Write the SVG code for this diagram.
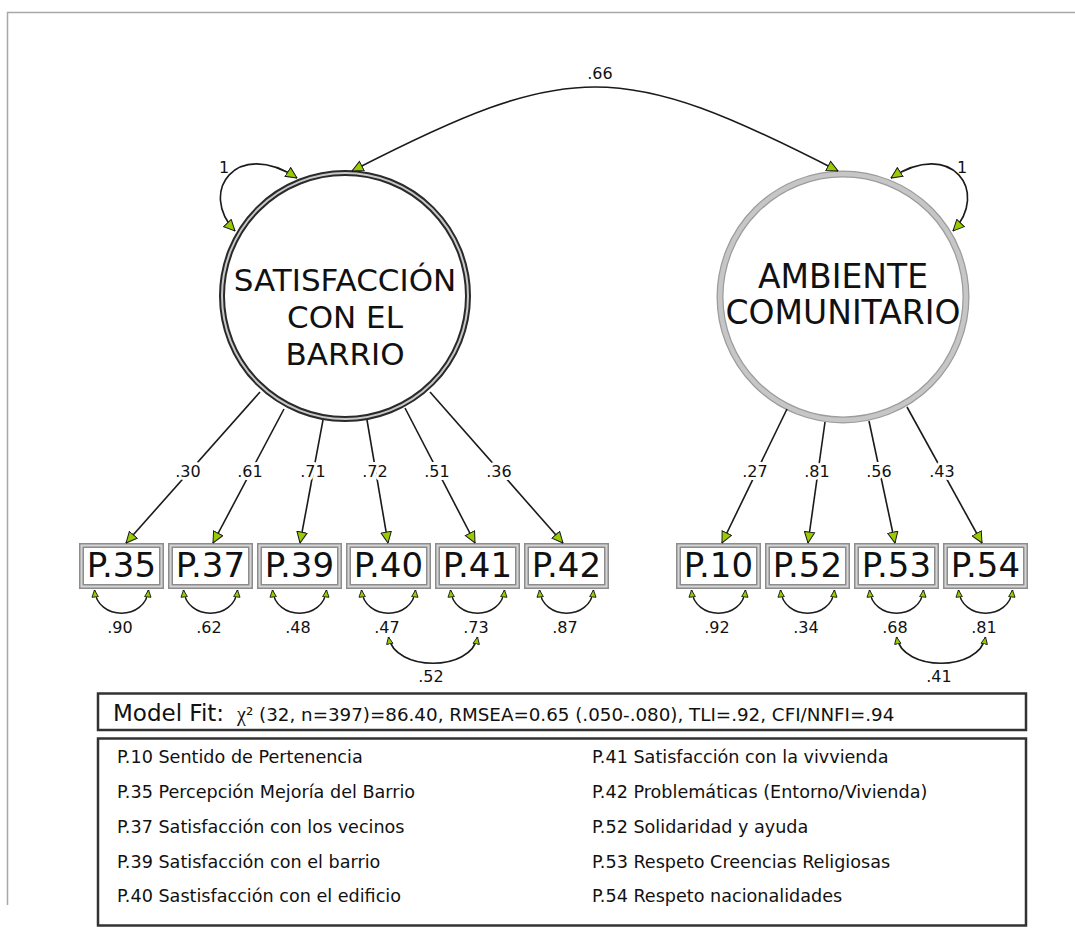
<svg xmlns="http://www.w3.org/2000/svg" width="1075" height="942" viewBox="0 0 1075 942">
<style>
text{font-family:"DejaVu Sans",Verdana,sans-serif;fill:#111}
.lbl{font-size:16px;text-anchor:middle;paint-order:stroke;stroke:#fff;stroke-width:6px;stroke-linejoin:round}
.elbl{font-size:16px;text-anchor:middle}
.c{fill:none;stroke:#1a1a1a;stroke-width:1.6}
.ld{marker-end:url(#ah)}
.lp{marker-start:url(#ah);marker-end:url(#ah)}
.er{marker-start:url(#as);marker-end:url(#as)}
.bo{fill:#fff;stroke:#8c8c8c;stroke-width:5}
.bi{fill:none;stroke:#d4d4d4;stroke-width:2}
.bt{font-size:34px;text-anchor:middle}
.lt{font-size:17.6px}
.ct{text-anchor:middle}
.frm{fill:#fff;stroke:#333;stroke-width:2.5}
</style>
<defs>
<marker id="ah" viewBox="0 0 12 12" refX="11.5" refY="6" markerWidth="12" markerHeight="12" markerUnits="userSpaceOnUse" orient="auto-start-reverse"><path d="M0.5,0.8 L11.5,6 L0.5,11.2 Z" fill="#99cc00" stroke="#1a1a1a" stroke-width="1"/></marker>
<marker id="as" viewBox="0 0 8 8" refX="7.5" refY="4" markerWidth="8" markerHeight="8" markerUnits="userSpaceOnUse" orient="auto-start-reverse"><path d="M0.5,0.8 L7.5,4 L0.5,7.2 Z" fill="#99cc00" stroke="#1a1a1a" stroke-width="0.9"/></marker>
</defs>
<rect width="1075" height="942" fill="#fff"/>
<path d="M7.5,905 V12.5 H1075" fill="none" stroke="#a8a8a8" stroke-width="1.5"/>

<g id="latent-satisfaccion">
<circle cx="345" cy="296" r="123" fill="#fff" stroke="#2a2a2a" stroke-width="6"/>
<circle cx="345" cy="296" r="123" fill="none" stroke="#c8c8c8" stroke-width="2"/>
<text class="ct" x="345" y="291" font-size="31">SATISFACCIÓN</text>
<text class="ct" x="345" y="328" font-size="31">CON EL</text>
<text class="ct" x="345" y="365" font-size="31">BARRIO</text>
</g>
<g id="latent-ambiente">
<circle cx="843" cy="297" r="123" fill="#fff" stroke="#9c9c9c" stroke-width="7"/>
<circle cx="843" cy="297" r="123" fill="none" stroke="#c6c6c6" stroke-width="4.5"/>
<text class="ct" x="843" y="288" font-size="33">AMBIENTE</text>
<text class="ct" x="843" y="324" font-size="33">COMUNITARIO</text>
</g>

<g id="P35"><rect class="bo" x="81.5" y="545.5" width="80" height="41"/><rect class="bi" x="81.5" y="545.5" width="80" height="41"/><text class="bt" x="121.5" y="577">P.35</text></g>
<g id="P37"><rect class="bo" x="170.5" y="545.5" width="80" height="41"/><rect class="bi" x="170.5" y="545.5" width="80" height="41"/><text class="bt" x="210.5" y="577">P.37</text></g>
<g id="P39"><rect class="bo" x="259.5" y="545.5" width="80" height="41"/><rect class="bi" x="259.5" y="545.5" width="80" height="41"/><text class="bt" x="299.5" y="577">P.39</text></g>
<g id="P40"><rect class="bo" x="348.5" y="545.5" width="80" height="41"/><rect class="bi" x="348.5" y="545.5" width="80" height="41"/><text class="bt" x="388.5" y="577">P.40</text></g>
<g id="P41"><rect class="bo" x="437.5" y="545.5" width="80" height="41"/><rect class="bi" x="437.5" y="545.5" width="80" height="41"/><text class="bt" x="477.5" y="577">P.41</text></g>
<g id="P42"><rect class="bo" x="526.5" y="545.5" width="80" height="41"/><rect class="bi" x="526.5" y="545.5" width="80" height="41"/><text class="bt" x="566.5" y="577">P.42</text></g>
<g id="P10"><rect class="bo" x="678.5" y="545.5" width="80" height="41"/><rect class="bi" x="678.5" y="545.5" width="80" height="41"/><text class="bt" x="718.5" y="577">P.10</text></g>
<g id="P52"><rect class="bo" x="767.5" y="545.5" width="80" height="41"/><rect class="bi" x="767.5" y="545.5" width="80" height="41"/><text class="bt" x="807.5" y="577">P.52</text></g>
<g id="P53"><rect class="bo" x="856.5" y="545.5" width="80" height="41"/><rect class="bi" x="856.5" y="545.5" width="80" height="41"/><text class="bt" x="896.5" y="577">P.53</text></g>
<g id="P54"><rect class="bo" x="945.5" y="545.5" width="80" height="41"/><rect class="bi" x="945.5" y="545.5" width="80" height="41"/><text class="bt" x="985.5" y="577">P.54</text></g>

<g id="connectors">
<path class="c lp" d="M352,171 C570,59 620,59 838,171"/>
<text class="elbl" x="600" y="79">.66</text>
<path class="c lp" d="M235,231 C198,192 236,138 297,178"/>
<text class="elbl" x="224" y="173">1</text>
<path class="c lp" d="M953,231 C990,192 952,138 891,178"/>
<text class="elbl" x="962" y="173">1</text>

<path class="c ld" d="M260,392 L126,543"/>
<path class="c ld" d="M284,409 L213,543"/>
<path class="c ld" d="M323,420 L300,543"/>
<path class="c ld" d="M367,420 L388,543"/>
<path class="c ld" d="M405,408 L475,543"/>
<path class="c ld" d="M430,392 L563,543"/>
<path class="c ld" d="M787,409 L722,543"/>
<path class="c ld" d="M825,422 L808,543"/>
<path class="c ld" d="M869,421 L895,543"/>
<path class="c ld" d="M907,407 L982,543"/>
<text class="lbl" x="188" y="477">.30</text>
<text class="lbl" x="250" y="477">.61</text>
<text class="lbl" x="313" y="477">.71</text>
<text class="lbl" x="375" y="477">.72</text>
<text class="lbl" x="437" y="477">.51</text>
<text class="lbl" x="499" y="477">.36</text>
<text class="lbl" x="755" y="477">.27</text>
<text class="lbl" x="817" y="477">.81</text>
<text class="lbl" x="879" y="477">.56</text>
<text class="lbl" x="942" y="477">.43</text>

<path class="c er" d="M94.5,590 C97.5,621 145.5,621 148.5,590"/>
<path class="c er" d="M183.5,590 C186.5,621 234.5,621 237.5,590"/>
<path class="c er" d="M272.5,590 C275.5,621 323.5,621 326.5,590"/>
<path class="c er" d="M361.5,590 C364.5,621 412.5,621 415.5,590"/>
<path class="c er" d="M450.5,590 C453.5,621 501.5,621 504.5,590"/>
<path class="c er" d="M539.5,590 C542.5,621 590.5,621 593.5,590"/>
<path class="c er" d="M691.5,590 C694.5,621 742.5,621 745.5,590"/>
<path class="c er" d="M780.5,590 C783.5,621 831.5,621 834.5,590"/>
<path class="c er" d="M869.5,590 C872.5,621 920.5,621 923.5,590"/>
<path class="c er" d="M958.5,590 C961.5,621 1009.5,621 1012.5,590"/>
<text class="elbl" x="120" y="633">.90</text>
<text class="elbl" x="209" y="633">.62</text>
<text class="elbl" x="298" y="633">.48</text>
<text class="elbl" x="387" y="633">.47</text>
<text class="elbl" x="476" y="633">.73</text>
<text class="elbl" x="565" y="633">.87</text>
<text class="elbl" x="717" y="633">.92</text>
<text class="elbl" x="806" y="633">.34</text>
<text class="elbl" x="895" y="633">.68</text>
<text class="elbl" x="984" y="633">.81</text>

<path class="c er" d="M388.5,637 C395,672 471,672 477.5,637"/>
<path class="c er" d="M896.5,637 C903,672 979,672 985.5,637"/>
<text class="elbl" x="431" y="682">.52</text>
<text class="elbl" x="939" y="682">.41</text>
</g>

<g id="model-fit">
<rect class="frm" x="98" y="693.5" width="928" height="36.5"/>
<text x="113" y="721" font-size="23">Model Fit:</text>
<text x="237" y="721" font-size="18.3"><tspan font-family="Liberation Serif,serif" font-size="20">χ</tspan>² (32, n=397)=86.40, RMSEA=0.65 (.050-.080), TLI=.92, CFI/NNFI=.94</text>
</g>

<g id="legend">
<rect class="frm" x="98" y="738.5" width="928" height="187"/>
<text class="lt" x="117" y="763">P.10 Sentido de Pertenencia</text>
<text class="lt" x="117" y="798">P.35 Percepción Mejoría del Barrio</text>
<text class="lt" x="117" y="833">P.37 Satisfacción con los vecinos</text>
<text class="lt" x="117" y="868">P.39 Satisfacción con el barrio</text>
<text class="lt" x="117" y="902">P.40 Sastisfacción con el edificio</text>
<text class="lt" x="592" y="763">P.41 Satisfacción con la vivvienda</text>
<text class="lt" x="592" y="798">P.42 Problemáticas (Entorno/Vivienda)</text>
<text class="lt" x="592" y="833">P.52 Solidaridad y ayuda</text>
<text class="lt" x="592" y="868">P.53 Respeto Creencias Religiosas</text>
<text class="lt" x="592" y="902">P.54 Respeto nacionalidades</text>
</g>
</svg>
